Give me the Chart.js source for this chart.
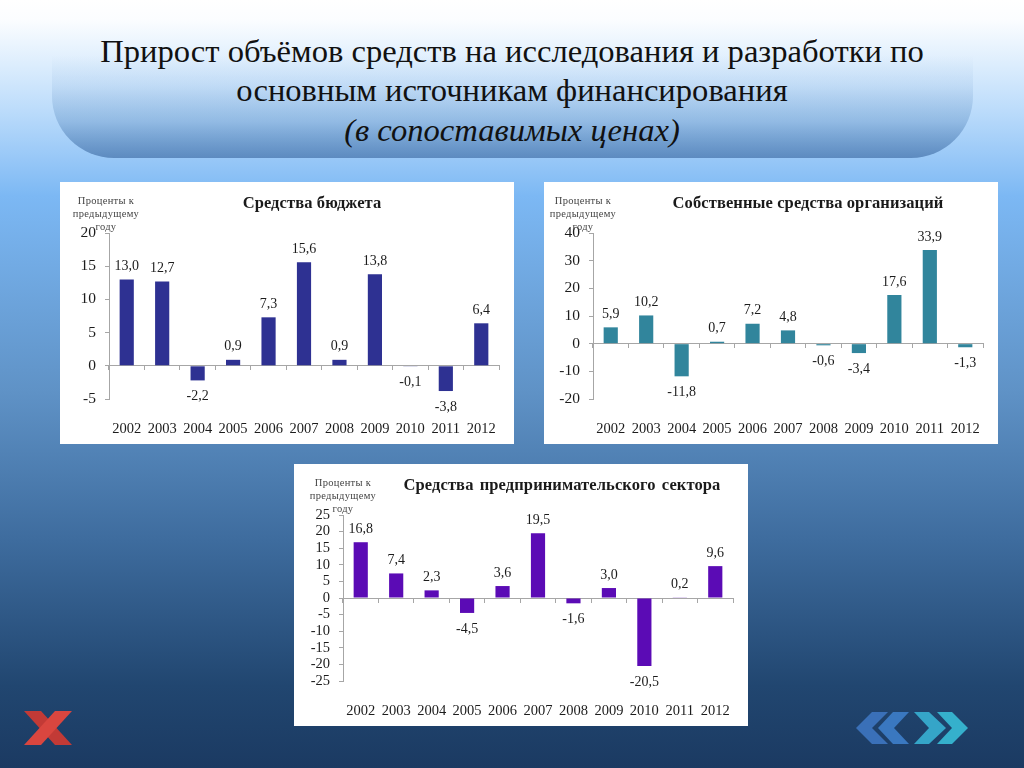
<!DOCTYPE html>
<html>
<head>
<meta charset="utf-8">
<script src="https://cdn.jsdelivr.net/npm/chart.js@4"></script>
<style>
html, body { margin: 0; padding: 0; }
body {
    width: 1024px; height: 768px; overflow: hidden; position: relative;
    font-family: "Liberation Serif", serif; color: #111;
    background: linear-gradient(180deg, #ffffff 0, #fbfdff 20px, #dcedfd 65px, #bcdcfb 110px, #7cb8f4 196px, #5f92c6 392px, #3e6c9e 540px, #214670 686px, #1b3a62 768px);
}
#banner {
    position: absolute; left: 52px; top: 55px; width: 921px; height: 103px;
    border-radius: 0 0 62px 62px;
    background: linear-gradient(180deg, rgba(80,130,190,0) 0, rgba(80,130,190,.1) 30%, rgba(75,125,180,.32) 65%, rgba(70,115,170,.72) 100%);
}
.head { position: absolute; left: 0; width: 1024px; text-align: center; font-size: 32.6px; line-height: 40px; }
.panel { position: absolute; width: 454px; height: 262px; background: #fff; }
.panel canvas { position: absolute; left: 0; top: 0; }
.title { position: absolute; top: 11px; transform: translateX(-50%); font-weight: bold; font-size: 16.5px; line-height: 20px; letter-spacing: .1px; white-space: nowrap; color: #1a1a1a; }
.note { position: absolute; top: 12px; transform: translateX(-50%); width: 100px; text-align: center; font-size: 10.5px; line-height: 13px; letter-spacing: .3px; color: #444; }
svg { position: absolute; }
</style>
</head>
<body>
<div id="banner"></div>
<div class="head" style="top:31px">Прирост объёмов средств на исследования и разработки по</div>
<div class="head" style="top:70px">основным источникам финансирования</div>
<div class="head" style="top:110px"><i>(в сопоставимых ценах)</i></div>

<div class="panel" style="left:60px;top:182px">
    <canvas id="budget" width="454" height="262"></canvas>
    <div class="title" style="left:252px">Средства бюджета</div>
    <div class="note" style="left:46px">Проценты к<br>предыдущему<br>году</div>
</div>
<div class="panel" style="left:544px;top:182px">
    <canvas id="own" width="454" height="262"></canvas>
    <div class="title" style="left:264px">Собственные средства организаций</div>
    <div class="note" style="left:39px">Проценты к<br>предыдущему<br>году</div>
</div>
<div class="panel" style="left:294px;top:464px">
    <canvas id="business" width="454" height="262"></canvas>
    <div class="title" style="left:268px;word-spacing:2px">Средства предпринимательского сектора</div>
    <div class="note" style="left:49px">Проценты к<br>предыдущему<br>году</div>
</div>

<svg style="left:20px;top:708px" width="56" height="40" viewBox="0 0 56 40">
    <path d="M4 3H21L52 37H35Z" fill="#c23a36"/>
    <path d="M52 3H35L4 37H21Z" fill="#d9463f"/>
</svg>
<svg style="left:840px;top:690px" width="150" height="70" viewBox="0 0 150 70">
    <path d="M16 38L32 22H48L32 38L48 54H32Z" fill="#3a70b8"/>
    <path d="M38 38L53 22H69L54 38L69 54H53Z" fill="#3a78c0"/>
    <path d="M74 22H89L106 38L89 54H74L89 38Z" fill="#35a5c8"/>
    <path d="M97 22H112L128 38L112 54H97L112 38Z" fill="#35b0cc"/>
</svg>

<script>
const years = ['2002', '2003', '2004', '2005', '2006', '2007', '2008', '2009', '2010', '2011', '2012']
const budgetValues = [13.0, 12.7, -2.2, 0.9, 7.3, 15.6, 0.9, 13.8, -0.1, -3.8, 6.4]
const ownValues = [5.9, 10.2, -11.8, 0.7, 7.2, 4.8, -0.6, -3.4, 17.6, 33.9, -1.3]
const businessValues = [16.8, 7.4, 2.3, -4.5, 3.6, 19.5, -1.6, 3.0, -20.5, 0.2, 9.6]

const axisColor = '#a6a6a6'
const textColor = '#1c1c1c'
const serif = 'Liberation Serif'

// the value labels over / under each bar, with a comma as in the original
const valueLabels = {
    id: 'valueLabels',
    afterDatasetsDraw(chart) {
        const ctx = chart.ctx
        const values = chart.data.datasets[0].data
        const bars = chart.getDatasetMeta(0).data
        ctx.save()
        ctx.font = '14px "' + serif + '"'
        ctx.fillStyle = textColor
        ctx.textAlign = 'center'
        bars.forEach((bar, i) => {
            const text = values[i].toFixed(1).replace('.', ',')
            if (values[i] < 0) {
                ctx.textBaseline = 'top'
                ctx.fillText(text, bar.x, bar.y + 9)
            } else {
                ctx.textBaseline = 'bottom'
                ctx.fillText(text, bar.x, bar.y - 6)
            }
        })
        ctx.restore()
    }
}

function drawChart(id, values, color, min, max, step, tickSize) {
    return new Chart(document.getElementById(id).getContext('2d'), {
        type: 'bar',
        data: {
            labels: years,
            datasets: [{ data: values, backgroundColor: color, barPercentage: 0.4, categoryPercentage: 1 }]
        },
        plugins: [valueLabels],
        options: {
            responsive: false,
            animation: false,
            layout: { padding: { top: 51, right: 15 } },
            plugins: { legend: { display: false }, title: { display: false }, tooltip: { enabled: false } },
            scales: {
                x: {
                    position: { y: 0 },
                    ticks: { display: false },
                    border: { color: axisColor },
                    grid: { drawOnChartArea: false, color: axisColor, tickLength: 4, offset: true }
                },
                years: {
                    type: 'category',
                    position: 'bottom',
                    border: { display: false },
                    grid: { display: false },
                    ticks: { color: textColor, font: { family: serif, size: 14.5 }, padding: 13, autoSkip: false, maxRotation: 0 },
                    afterFit(scale) { scale.height = 45 }
                },
                y: {
                    min: min,
                    max: max,
                    border: { color: axisColor },
                    grid: { drawOnChartArea: false, color: axisColor, tickLength: 4 },
                    ticks: { stepSize: step, autoSkip: false, color: textColor, font: { family: serif, size: tickSize }, padding: 9 },
                    afterFit(scale) { scale.width = 49 }
                }
            }
        }
    })
}

drawChart('budget', budgetValues, '#2e3192', -5, 20, 5, 15.5)
drawChart('own', ownValues, '#31859c', -20, 40, 10, 15.5)
drawChart('business', businessValues, '#5b0bb5', -25, 25, 5, 14.5)
</script>
</body>
</html>
